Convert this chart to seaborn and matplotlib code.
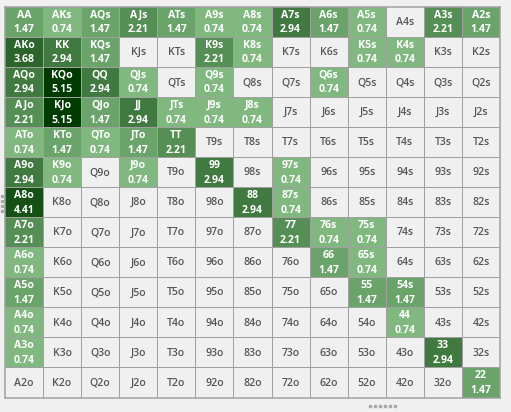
import numpy as np
import matplotlib
matplotlib.use("Agg")
import matplotlib.pyplot as plt
from matplotlib.colors import LinearSegmentedColormap
from matplotlib.lines import Line2D
import seaborn as sns

ranks = list("AKQJT98765432")

# Frequency (%) for each hand, row by row (suited above diagonal, offsuit below)
row_A = [1.47, 0.74, 1.47, 2.21, 1.47, 0.74, 0.74, 2.94, 1.47, 0.74, 0, 2.21, 1.47]
row_K = [3.68, 2.94, 1.47, 0, 0, 2.21, 0.74, 0, 0, 0.74, 0.74, 0, 0]
row_Q = [2.94, 5.15, 2.94, 0.74, 0, 0.74, 0, 0, 0.74, 0, 0, 0, 0]
row_J = [2.21, 5.15, 1.47, 2.94, 0.74, 0.74, 0.74, 0, 0, 0, 0, 0, 0]
row_T = [0.74, 1.47, 0.74, 1.47, 2.21, 0, 0, 0, 0, 0, 0, 0, 0]
row_9 = [2.94, 0.74, 0, 0.74, 0, 2.94, 0, 0.74, 0, 0, 0, 0, 0]
row_8 = [4.41, 0, 0, 0, 0, 0, 2.94, 0.74, 0, 0, 0, 0, 0]
row_7 = [2.21, 0, 0, 0, 0, 0, 0, 2.21, 0.74, 0.74, 0, 0, 0]
row_6 = [0.74, 0, 0, 0, 0, 0, 0, 0, 1.47, 0.74, 0, 0, 0]
row_5 = [1.47, 0, 0, 0, 0, 0, 0, 0, 0, 1.47, 1.47, 0, 0]
row_4 = [0.74, 0, 0, 0, 0, 0, 0, 0, 0, 0, 0.74, 0, 0]
row_3 = [0.74, 0, 0, 0, 0, 0, 0, 0, 0, 0, 0, 2.94, 0]
row_2 = [0, 0, 0, 0, 0, 0, 0, 0, 0, 0, 0, 0, 1.47]

freq = np.array([row_A, row_K, row_Q, row_J, row_T, row_9, row_8,
                 row_7, row_6, row_5, row_4, row_3, row_2])


def hand_name(i, j):
    if i == j:
        return ranks[i] * 2
    if j > i:
        return ranks[i] + ranks[j] + "s"
    return ranks[j] + ranks[i] + "o"


W, H = 511, 412
fig = plt.figure(figsize=(W / 100, H / 100), dpi=100)
fig.patch.set_facecolor("#f0f0f0")
ax = fig.add_axes([5 / W, (H - 397.5) / H, 495 / W, 390.5 / H])

cmap = LinearSegmentedColormap.from_list("grn", ["#80b880", "#003c00"])
cmap.set_under("#f0f0f0")

sns.heatmap(freq, ax=ax, cmap=cmap, vmin=0.74, vmax=5.15, cbar=False,
            linewidths=0, xticklabels=False, yticklabels=False)
ax.set_xlabel("")
ax.set_ylabel("")

# cell borders, one device pixel wide
n = len(ranks)
px = 72 / fig.dpi
ax.hlines(np.arange(1, n), 0, n, colors="#a0a0a0", lw=px, snap=True,
          antialiased=False, zorder=3)
ax.vlines(np.arange(1, n), 0, n, colors="#a0a0a0", lw=px, snap=True,
          antialiased=False, zorder=3)
for s in ax.spines.values():
    s.set_visible(True)
    s.set_color("#a0a0a0")
    s.set_linewidth(1.5 * px)

for i in range(n):
    for j in range(n):
        v = freq[i, j]
        name = hand_name(i, j)
        if v > 0:
            ax.text(j + 0.5, i + 0.52, f"{name}\n{v:.2f}", ha="center",
                    va="center", color="white", fontsize=7.6,
                    fontweight="bold", linespacing=1.45,
                    family="Open Sans", zorder=4)
        else:
            ax.text(j + 0.5, i + 0.52, name, ha="center", va="center",
                    color="#555555", fontsize=7.6, fontweight="semibold",
                    family="Open Sans", zorder=4)

# resize grips
fig.add_artist(Line2D([1.5 / W] * 4,
                      [1 - y / H for y in (196, 201, 206, 211)],
                      ls="none", marker="s", ms=1.6, color="#a8a8a8",
                      transform=fig.transFigure))
fig.add_artist(Line2D([x / W for x in (369.5, 374.5, 379.5, 384.5, 389.5, 394.5)],
                      [1 - 406 / H] * 6,
                      ls="none", marker="s", ms=1.6, color="#a8a8a8",
                      transform=fig.transFigure))

fig.savefig("out.png", dpi=100, facecolor=fig.get_facecolor())
